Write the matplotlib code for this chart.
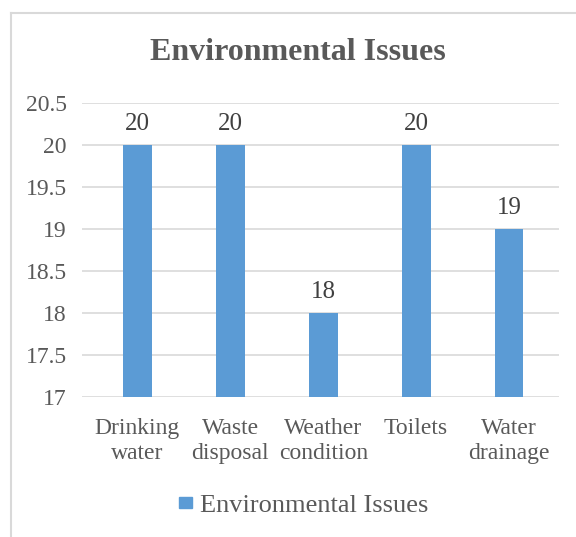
import matplotlib.pyplot as plt
from matplotlib.lines import Line2D
from matplotlib.patches import Patch

# data
categories = ['Drinking\nwater', 'Waste\ndisposal', 'Weather\ncondition', 'Toilets', 'Water\ndrainage']
values = [20, 20, 18, 20, 19]
series_name = 'Environmental Issues'

bar_color = '#5B9BD5'
grid_color = '#D9D9D9'
text_color = '#595959'

plt.rcParams['font.family'] = ['Liberation Serif', 'DejaVu Serif']

fig = plt.figure(figsize=(5.76, 5.37), dpi=100)
ax = fig.add_axes([0.1424, 0.2607, 0.828, 0.5475])

x = range(len(categories))
bars = ax.bar(x, values, width=0.31, color=bar_color, zorder=3)

ax.set_ylim(17, 20.5)
ax.set_xlim(-0.597, len(categories) - 0.462)
ax.set_yticks([17, 17.5, 18, 18.5, 19, 19.5, 20, 20.5])
ax.set_yticklabels(['17', '17.5', '18', '18.5', '19', '19.5', '20', '20.5'])
ax.set_xticks(list(x))
ax.set_xticklabels(categories, linespacing=1.27)
ax.tick_params(axis='both', length=0, labelsize=17, colors=text_color)
ax.tick_params(axis='x', pad=15)
ax.tick_params(axis='y', pad=11)
ax.grid(axis='y', color=grid_color, linewidth=1.2, zorder=0)
for s in ax.spines.values():
    s.set_visible(False)

# value labels
for b, v in zip(bars, values):
    ax.annotate(str(v), (b.get_x() + b.get_width() / 2, v), xytext=(0, 7),
                textcoords='offset points', ha='center', va='bottom',
                fontsize=18, color='#404040')

fig.text(0.518, 0.902, series_name, ha='center', va='center',
         fontsize=23, fontweight='bold', color=text_color)

leg = fig.legend(handles=[Patch(color=bar_color, label=series_name)],
                 loc='center', bbox_to_anchor=(0.527, 0.058), frameon=False,
                 fontsize=19, handlelength=0.5, handleheight=0.3, handletextpad=0.3)
for t in leg.get_texts():
    t.set_color(text_color)

# chart border (left and top edges)
bx = 10.5 / 576
by = 1 - 12.5 / 537
fig.add_artist(Line2D([bx, bx], [0, by], transform=fig.transFigure, color=grid_color, linewidth=1.5))
fig.add_artist(Line2D([bx, 1], [by, by], transform=fig.transFigure, color=grid_color, linewidth=1.5))

fig.savefig('out.png', dpi=100)
